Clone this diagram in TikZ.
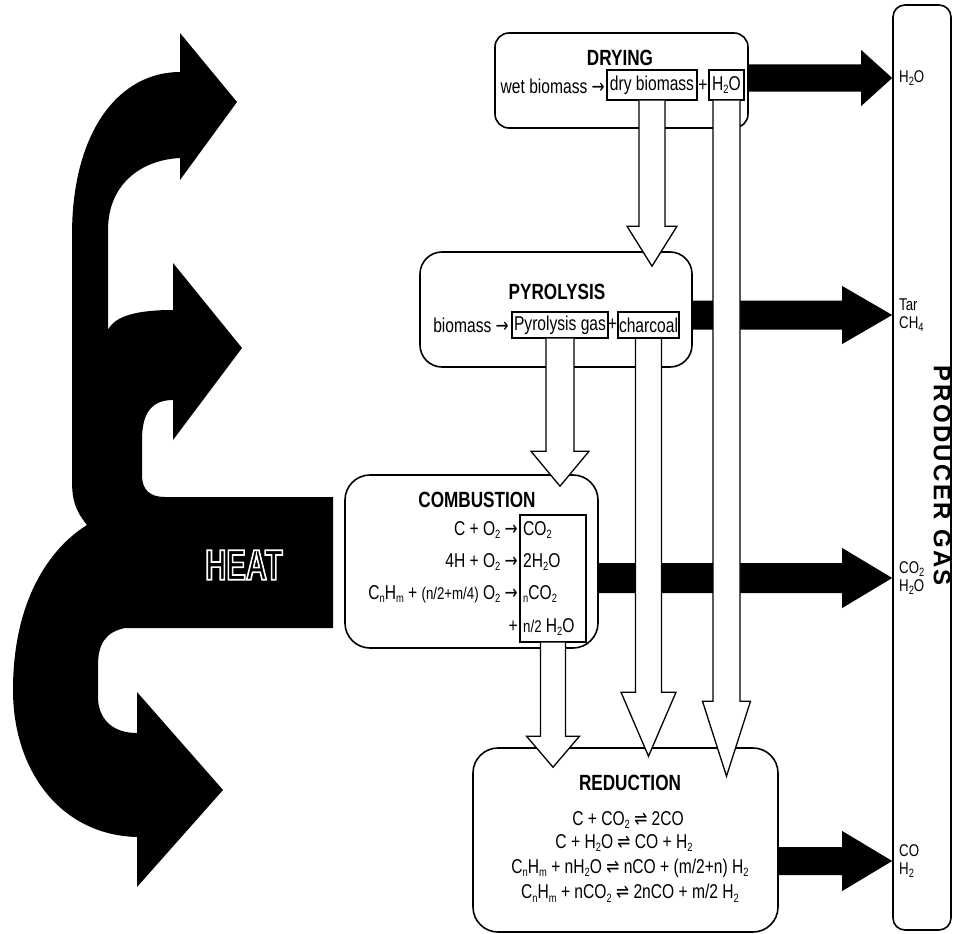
\documentclass[tikz,border=0pt]{standalone}
\usepackage{fontspec}
\usetikzlibrary{calc}
\setmainfont{Liberation Sans}
\newfontfamily\cf[FakeStretch=0.78]{Liberation Sans}
\newfontfamily\heatfont[FakeStretch=0.68]{Liberation Sans}
\newfontfamily\dv[FakeStretch=0.78]{DejaVu Sans}
\newfontfamily\pgfont[LetterSpace=10]{Liberation Sans}
\newcommand\chsub[1]{\raisebox{-0.35ex}{\fontsize{12}{12}\selectfont #1}}
\newcommand\smtxt[1]{{\fontsize{17}{17}\selectfont #1}}
\newcommand\fwd{{\dv →}}
\newcommand\eqarr{{\dv ⇌}}
\newcommand\hollowtext[1]{\special{pdf:literal direct 1 Tr 1.6 w 1 1 1 RG}#1\special{pdf:literal direct 0 Tr 0 0 0 RG}}
\newcommand\outarrow[5]{%
  \fill let \p1=(#1), \p2=(#2) in
  (\x1,\y1+#3pt) -- (\x2-#5pt,\y1+#3pt) -- (\x2-#5pt,\y1+#4pt) -- (\x2,\y1)
  -- (\x2-#5pt,\y1-#4pt) -- (\x2-#5pt,\y1-#3pt) -- (\x1,\y1-#3pt) -- cycle;}
\newcommand\inarrow[6]{%
  \filldraw[hollow] let \p1=(#1.south), \p2=(#2.north) in
  (\x1-#3pt,\y1) -- (\x1-#3pt,\y2-#6pt+#5pt) -- (\x1-#4pt,\y2-#6pt+#5pt) -- (\x1,\y2-#6pt)
  -- (\x1+#4pt,\y2-#6pt+#5pt) -- (\x1+#3pt,\y2-#6pt+#5pt) -- (\x1+#3pt,\y1);}
\tikzset{
  proc/.style={draw, line width=1.6pt, fill=white, inner sep=0pt},
  tbox/.style={draw, line width=1.2pt, fill=white, inner sep=0.5pt, font=\cf\fontsize{20}{22}\selectfont},
  ttl/.style={font=\cf\bfseries\fontsize{22}{24}\selectfont, inner sep=0pt},
  txt/.style={font=\cf\fontsize{20}{22}\selectfont, inner sep=0pt},
  lbl/.style={font=\cf\fontsize{17}{18}\selectfont, inner sep=0pt, anchor=west, align=left},
  hollow/.style={draw, fill=white, line width=1.3pt, line join=miter},
}
\begin{document}
\begin{tikzpicture}[x=1pt, y=-1pt]
\useasboundingbox (0,0) rectangle (953,934);

% heat arrow
\fill[black] (237,102) -- (180,180) -- (180,158)
  .. controls (140,160) and (108,185) .. (108,230) -- (108,330)
  .. controls (115,315) and (140,310) .. (173,310) -- (173,263) -- (242,348)
  -- (173,440) -- (173,400)
  .. controls (150,400) and (142,415) .. (142,440) -- (142,475)
  .. controls (142,490) and (150,497) .. (165,497) -- (333,497) -- (333,628)
  -- (125,628) .. controls (105,632) and (98,645) .. (98,665) -- (98,700)
  .. controls (100,722) and (115,733) .. (137,733) -- (137,692) -- (223,790)
  -- (137,887) -- (137,837)
  .. controls (60,835) and (13,770) .. (13,690)
  .. controls (13,600) and (50,548) .. (87,525)
  .. controls (75,510) and (72,500) .. (72,480) -- (72,235)
  .. controls (72,130) and (120,72) .. (180,72) -- (180,33) -- cycle;
\node[font=\heatfont\bfseries\fontsize{43}{43}\selectfont, inner sep=0pt] (heat) at (244,565) {\hollowtext{HEAT}};

% process boxes
\node[proc, rounded corners=14pt, minimum width=253pt, minimum height=95pt] (drying) at (621.5,80.5) {};
\node[proc, rounded corners=22pt, minimum width=272pt, minimum height=115pt] (pyrolysis) at (556,309.5) {};
\node[proc, rounded corners=25pt, minimum width=253pt, minimum height=173pt] (combustion) at (471.5,561.5) {};
\node[proc, rounded corners=25pt, minimum width=305pt, minimum height=184pt] (reduction) at (625.5,840) {};
\node[proc, rounded corners=12pt, minimum width=58pt, minimum height=925pt] (producer) at (922,467.5) {};

% producer gas labels
\node[lbl] (gas1) at (899,78) {H\chsub{2}O};
\node[lbl] (gas2) at (899,315) {Tar\\CH\chsub{4}};
\node[lbl] (gas3) at (899,578) {CO\chsub{2}\\H\chsub{2}O};
\node[lbl] (gas4) at (899,861) {CO\\H\chsub{2}};
\node[font=\pgfont\bfseries\fontsize{24}{24}\selectfont, inner sep=0pt, rotate=-90] (pgas) at (942,476) {PRODUCER GAS};

% output arrows
\outarrow{drying.east |- gas1.west}{producer.west |- gas1.west}{13.5}{28}{31}
\outarrow{pyrolysis.east |- gas2.west}{producer.west |- gas2.west}{14.5}{29}{50}
\outarrow{combustion.east |- gas3.west}{producer.west |- gas3.west}{15}{30}{50}
\outarrow{reduction.east |- gas4.west}{producer.west |- gas4.west}{14}{30}{50}

% text boxes
\node[tbox, minimum width=90pt, minimum height=30pt] (drybox) at (652,85) {dry biomass};
\node[tbox, minimum width=35pt, minimum height=30pt] (h2obox) at (726.5,85) {H\chsub{2}O};
\node[tbox, minimum width=96pt, minimum height=26pt] (gasbox) at (560,325) {Pyrolysis gas};
\node[tbox, line width=2.4pt, minimum width=61pt, minimum height=26pt] (charbox) at (648.5,325) {charcoal};
\node[tbox, minimum width=66pt, minimum height=127pt] (prodbox) at (553,578.5) {};

% hollow arrows
\inarrow{drybox}{pyrolysis}{13}{25}{40}{15}
\inarrow{h2obox}{reduction}{13.5}{24}{75}{29}
\inarrow{gasbox}{combustion}{14}{29}{35}{12}
\inarrow{charbox}{reduction}{13}{27.5}{64}{9}
\inarrow{prodbox}{reduction}{12.5}{26.5}{31}{20}

% drying text
\node[ttl] (tdry) at (620,58) {DRYING};
\node[txt, anchor=east] (wetb) at (605,86) {wet biomass \fwd};
\node[txt] (plus1) at (703,86) {+};

% pyrolysis text
\node[ttl] (tpyr) at (557,292) {PYROLYSIS};
\node[txt, anchor=east] (bio) at (509,325) {biomass \fwd};
\node[txt] (plus2) at (612.5,325) {+};

% combustion text
\node[ttl] (tcomb) at (477,500) {COMBUSTION};
\node[txt, anchor=east] (c1l) at (518,530) {C + O\chsub{2} \fwd};
\node[txt, anchor=west] (c1r) at (523,530) {CO\chsub{2}};
\node[txt, anchor=east] (c2l) at (518,562) {4H + O\chsub{2} \fwd};
\node[txt, anchor=west] (c2r) at (523,562) {2H\chsub{2}O};
\node[txt, anchor=east] (c3l) at (518,594) {C\chsub{n}H\chsub{m} + \smtxt{(n/2+m/4)} O\chsub{2} \fwd};
\node[txt, anchor=west] (c3r) at (523,594) {\chsub{n}CO\chsub{2}};
\node[txt, anchor=east] (c4l) at (518,627) {+};
\node[txt, anchor=west] (c4r) at (523,627) {\smtxt{n/2} H\chsub{2}O};

% reduction text
\node[ttl] (tred) at (630,783) {REDUCTION};
\node[txt] (r1) at (628,820) {C + CO\chsub{2} \eqarr{} 2CO};
\node[txt] (r2) at (624,843) {C + H\chsub{2}O \eqarr{} CO + H\chsub{2}};
\node[txt] (r3) at (630,868) {C\chsub{n}H\chsub{m} + nH\chsub{2}O \eqarr{} nCO + (m/2+n) H\chsub{2}};
\node[txt] (r4) at (630,893) {C\chsub{n}H\chsub{m} + nCO\chsub{2} \eqarr{} 2nCO + m/2 H\chsub{2}};
\end{tikzpicture}
\end{document}
